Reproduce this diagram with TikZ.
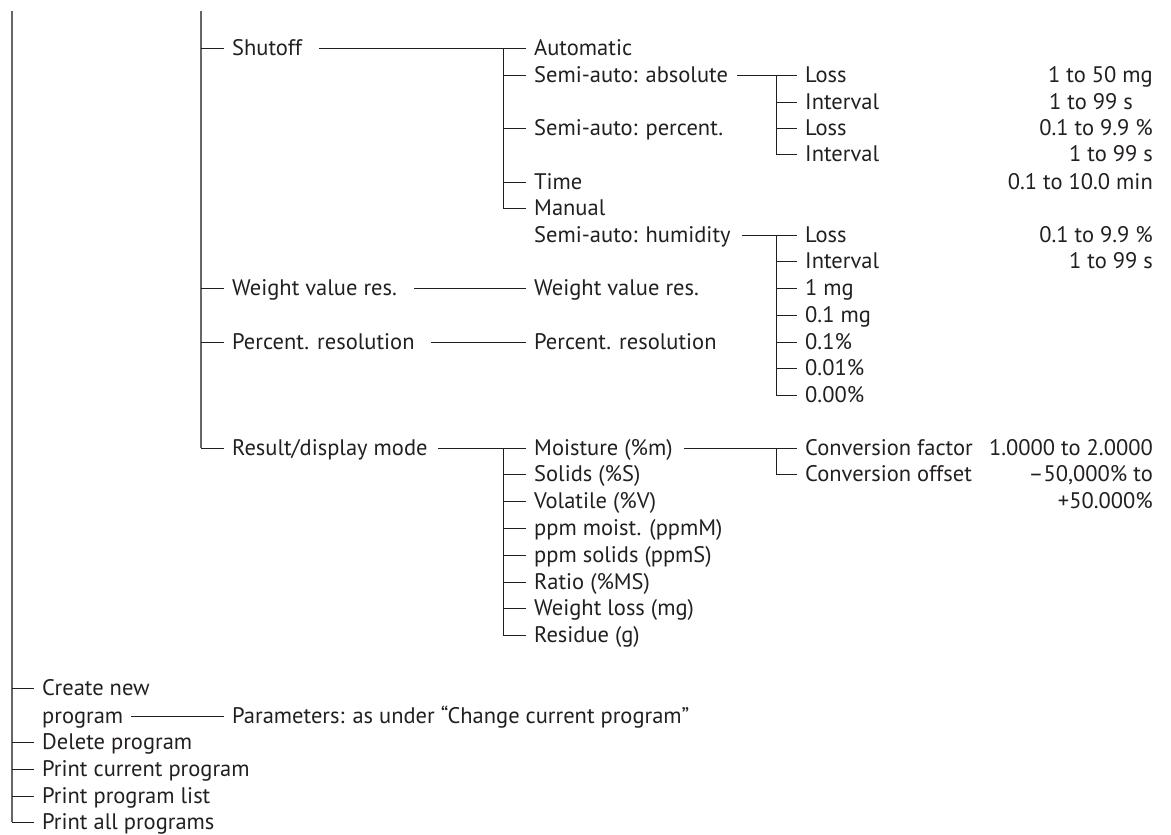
\documentclass[tikz,border=0pt]{standalone}
\usepackage{fontspec}
\setmainfont{PT Sans}
\definecolor{ink}{HTML}{231F20}
\begin{document}
\begin{tikzpicture}[x=1pt,y=-1pt,
  every node/.style={font=\fontsize{22.5}{26}\selectfont, text=ink},
  item/.style={anchor=west, inner xsep=8pt, inner ysep=0pt, text height=15.4pt, text depth=0pt},
  val/.style={anchor=east, inner xsep=0pt, inner ysep=0pt, text height=15.4pt, text depth=0pt},
  trunk/.style={draw=black!60, line width=1.1pt},
  br/.style={draw=ink, line width=0.8pt}]
\useasboundingbox (0,0) rectangle (1171,835);
% column B
\node[item] (shutoff) at (224,48) {Shutoff};
\node[item] (wvr) at (224,288) {Weight value res.};
\node[item] (pres) at (224,342) {Percent. resolution};
\node[item] (result) at (224,448) {Result/display mode};
% column C
\node[item] (automatic) at (526,48) {Automatic};
\node[item] (semiabs) at (526,75) {Semi-auto: absolute};
\node[item] (semipct) at (526,128) {Semi-auto: percent.};
\node[item] (time) at (526,182) {Time};
\node[item] (manual) at (526,208) {Manual};
\node[item] (semihum) at (526,235) {Semi-auto: humidity};
\node[item] (wvr2) at (526,288) {Weight value res.};
\node[item] (pres2) at (526,342) {Percent. resolution};
\node[item] (moist) at (526,448) {Moisture (\%m)};
\node[item] (solids) at (526,474) {Solids (\%S)};
\node[item] (volatile) at (526,501) {Volatile (\%V)};
\node[item] (ppmm) at (526,528) {ppm moist. (ppmM)};
\node[item] (ppms) at (526,555) {ppm solids (ppmS)};
\node[item] (ratio) at (526,582) {Ratio (\%MS)};
\node[item] (wloss) at (526,608) {Weight loss (mg)};
\node[item] (residue) at (526,635) {Residue (g)};
% column D
\node[item] (lossA) at (797,75) {Loss};
\node[item] (intA) at (797,102) {Interval};
\node[item] (lossB) at (797,128) {Loss};
\node[item] (intB) at (797,154) {Interval};
\node[item] (lossC) at (797,235) {Loss};
\node[item] (intC) at (797,261) {Interval};
\node[item] (mg1) at (797,288) {1 mg};
\node[item] (mg01) at (797,315) {0.1 mg};
\node[item] (p01) at (797,342) {0.1\%};
\node[item] (p001) at (797,368) {0.01\%};
\node[item] (p000) at (797,395) {0.00\%};
\node[item] (cfac) at (797,448) {Conversion factor};
\node[item] (coff) at (797,474) {Conversion offset};
% values
\node[val] (v1) at (1153,75) {1 to 50 mg};
\node[val] (v2) at (1133,102) {1 to 99 s};
\node[val] (v3) at (1153,128) {0.1 to 9.9 \%};
\node[val] (v4) at (1153,154) {1 to 99 s};
\node[val] (v5) at (1153,182) {0.1 to 10.0 min};
\node[val] (v6) at (1153,235) {0.1 to 9.9 \%};
\node[val] (v7) at (1153,261) {1 to 99 s};
\node[val] (v8) at (1153,448) {1.0000 to 2.0000};
\node[val] (v9) at (1153,474) {–50,000\% to};
\node[val] (v10) at (1153,501) {+50.000\%};
% column A
\node[item] (create) at (34,688) {Create new};
\node[item] (program) at (34,716) {program};
\node[item] (delete) at (34,742) {Delete program};
\node[item] (printcur) at (34,769) {Print current program};
\node[item] (printlist) at (34,796) {Print program list};
\node[item] (printall) at (34,822) {Print all programs};
\node[item] (params) at (224,716) {Parameters: as under “Change current program”};
% trunk coordinates
\coordinate (t1) at (12,11);
\coordinate (t2) at (201,11);
\coordinate (c3) at (503,48);
\coordinate (c4) at (776,75);
\coordinate (c5) at (776,235);
\coordinate (c6) at (776,448);
\coordinate (c7) at (503,448);
% L1
\draw[trunk] (t1) -- (t1 |- printall.west);
\foreach \n in {create,delete,printcur,printlist,printall}
  \draw[br] (t1 |- \n.west) -- (\n.west);
\draw[br] (program.east) -- (params.west);
% L2
\draw[trunk] (t2) -- (t2 |- result.west);
\foreach \n in {shutoff,wvr,pres,result}
  \draw[br] (t2 |- \n.west) -- (\n.west);
% Shutoff
\draw[br] ([xshift=9pt]shutoff.east) -- (automatic.west);
\draw[br] (c3) |- (manual.west);
\foreach \n in {semiabs,semipct,time}
  \draw[br] (c3 |- \n.west) -- (\n.west);
% semi-auto absolute / percent
\draw[br] ([xshift=1pt]semiabs.east) -- (lossA.west);
\draw[br] (c4) |- (intB.west);
\foreach \n in {intA,lossB}
  \draw[br] (c4 |- \n.west) -- (\n.west);
% semi-auto humidity
\draw[br] ([xshift=3pt]semihum.east) -- (lossC.west);
\draw[br] (c5) |- (p000.west);
\foreach \n in {intC,mg1,mg01,p01,p001}
  \draw[br] (c5 |- \n.west) -- (\n.west);
% resolutions
\draw[br] ([xshift=9pt]wvr.east) -- (wvr2.west);
\draw[br] ([xshift=8pt]pres.east) -- (pres2.west);
% result mode
\draw[br] ([xshift=2pt]result.east) -- (moist.west);
\draw[br] (c7) |- (residue.west);
\foreach \n in {solids,volatile,ppmm,ppms,ratio,wloss}
  \draw[br] (c7 |- \n.west) -- (\n.west);
% moisture
\draw[br] ([xshift=3pt]moist.east) -- (cfac.west);
\draw[br] (c6) |- (coff.west);
\end{tikzpicture}
\end{document}
